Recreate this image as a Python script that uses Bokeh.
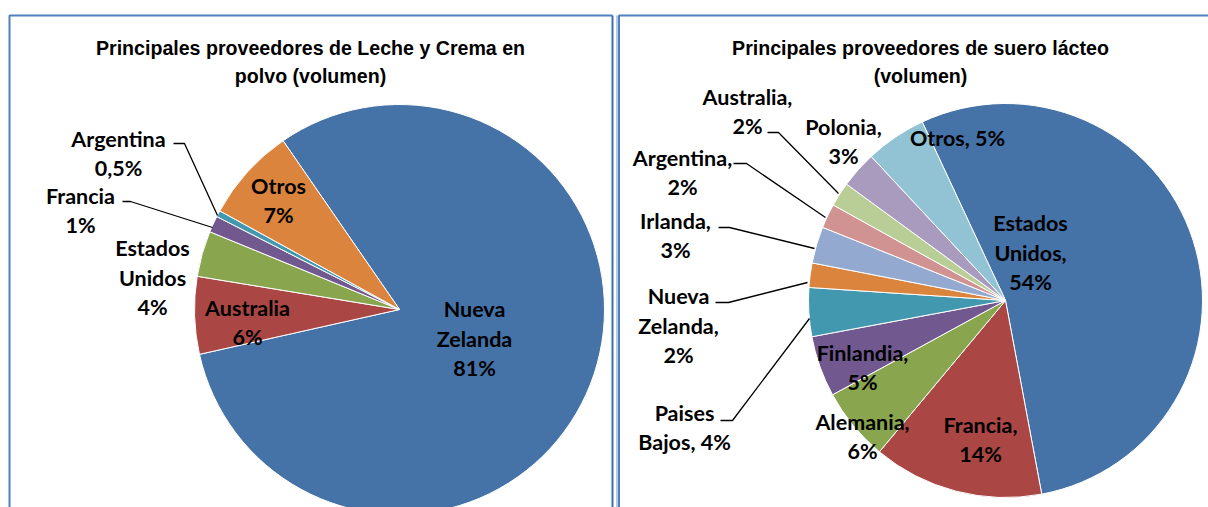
import numpy as np
from bokeh.plotting import figure
from bokeh.models import Range1d
from bokeh.core.properties import value
from bokeh.embed import file_html
from bokeh.resources import INLINE

# ---------------- data ----------------
left_title = ["Principales proveedores de Leche y Crema en", "polvo (volumen)"]
left_names = ["Nueva Zelanda", "Australia", "Estados Unidos", "Francia", "Argentina", "Otros"]
left_values = [81.1, 6.1, 3.6, 1.3, 0.5, 7.4]
left_labels = ["Nueva\nZelanda\n81%", "Australia\n6%", "Estados\nUnidos\n4%",
               "Francia\n1%", "Argentina\n0,5%", "Otros\n7%"]

right_title = ["Principales proveedores de suero lácteo", "(volumen)"]
right_names = ["Estados Unidos", "Francia", "Alemania", "Finlandia", "Paises Bajos",
               "Nueva Zelanda", "Irlanda", "Argentina", "Australia", "Polonia", "Otros"]
right_values = [54, 14, 6, 5, 4, 2, 3, 2, 2, 3, 5]
right_labels = ["Estados\nUnidos,\n54%", "Francia,\n14%", "Alemania,\n6%", "Finlandia,\n5%",
                "Paises\nBajos, 4%", "Nueva\nZelanda,\n2%", "Irlanda,\n3%", "Argentina,\n2%",
                "Australia,\n2%", "Polonia,\n3%", "Otros, 5%"]

left_colors = ["#4572A7", "#AA4643", "#89A54E", "#71588F", "#4198AF", "#DB843D"]
right_colors = ["#4572A7", "#AA4643", "#89A54E", "#71588F", "#4198AF", "#DB843D",
                "#93A9CF", "#D19392", "#B9CD96", "#A99BBD", "#91C3D5"]

# ---------------- layout (screen pixel coordinates) ----------------
W, H = 1208, 507


def sy(y):
    return H - y


left_pie = dict(cx=399, cy=309, r=205, start=325.4)
right_pie = dict(cx=1005, cy=300, r=197, start=335.0)

left_label_pos = [(474, 338), (247, 322), (152, 277), (80, 210), (118, 153), (278, 200)]
right_label_pos = [(1030, 252), (980, 439), (862, 436), (862, 367), (684, 427),
                   (678, 325), (675, 235), (682, 172), (747, 111), (843, 141), (957, 137)]

left_leaders = {4: [(173, 143), (184, 143), (217, 215)],
                3: [(122, 201), (130, 201), (212, 227)]}
right_leaders = {8: [(767, 132), (778, 132), (838, 193)],
                 7: [(733, 163), (746, 163), (825, 217)],
                 6: [(718, 227), (729, 227), (814, 248)],
                 5: [(715, 302), (728, 302), (807, 282)],
                 4: [(720, 420), (732, 420), (809, 318)]}

LABEL_FONT = value("Lato")
TITLE_FONT = value("Liberation Sans")
LINE_SP = 29.5

p = figure(width=W, height=H, x_range=Range1d(0, W), y_range=Range1d(0, H),
           output_backend="svg", toolbar_location=None, min_border=0,
           background_fill_color="white", border_fill_color="white")
p.axis.visible = False
p.grid.visible = False
p.outline_line_color = None

# panel frames
BORDER = "#4F81BD"
p.line([9, 9, 612], [sy(600), sy(15), sy(15)], line_color=BORDER, line_width=2)
p.line([612, 612], [sy(15), sy(600)], line_color="#3F6FAA", line_width=2)
p.line([616.5, 616.5], [sy(600), sy(15)], line_color="#9DB9DE", line_width=1.5)
p.line([618.5, 618.5, 1300], [sy(600), sy(15), sy(15)], line_color=BORDER, line_width=2)


def draw_pie(values, colors, pie):
    v = np.asarray(values, dtype=float)
    frac = v / v.sum() * 360.0
    cum_end = pie["start"] + np.cumsum(frac)
    cum_start = cum_end - frac
    start = np.deg2rad(90.0 - cum_start)
    end = np.deg2rad(90.0 - cum_end)
    p.wedge(x=pie["cx"], y=sy(pie["cy"]), radius=pie["r"],
            start_angle=start, end_angle=end, direction="clock",
            fill_color=colors, line_color="white", line_width=1)


def draw_labels(labels, positions):
    xs, ys, ts = [], [], []
    for lab, (cx, cy) in zip(labels, positions):
        lines = lab.split("\n")
        n = len(lines)
        for i, ln in enumerate(lines):
            xs.append(cx)
            ys.append(sy(cy + (i - (n - 1) / 2) * LINE_SP))
            ts.append(ln)
    p.text(x=xs, y=ys, text=ts, text_font=LABEL_FONT, text_font_style="bold",
           text_font_size="21.5px", text_align="center", text_baseline="middle",
           text_color="black")


def draw_leaders(leaders):
    for pts in leaders.values():
        p.line([q[0] for q in pts], [sy(q[1]) for q in pts], line_color="black", line_width=1.3)


def draw_title(lines, cx):
    p.text(x=[cx] * len(lines), y=[sy(47 + 28 * i) for i in range(len(lines))], text=lines,
           text_font=TITLE_FONT, text_font_style="bold", text_font_size="19.6px",
           text_align="center", text_baseline="middle", text_color="black")


draw_pie(left_values, left_colors, left_pie)
draw_pie(right_values, right_colors, right_pie)
draw_leaders(left_leaders)
draw_leaders(right_leaders)
draw_labels(left_labels, left_label_pos)
draw_labels(right_labels, right_label_pos)
draw_title(left_title, 310)
draw_title(right_title, 920)

open("out.html", "w").write(file_html(p, INLINE))
